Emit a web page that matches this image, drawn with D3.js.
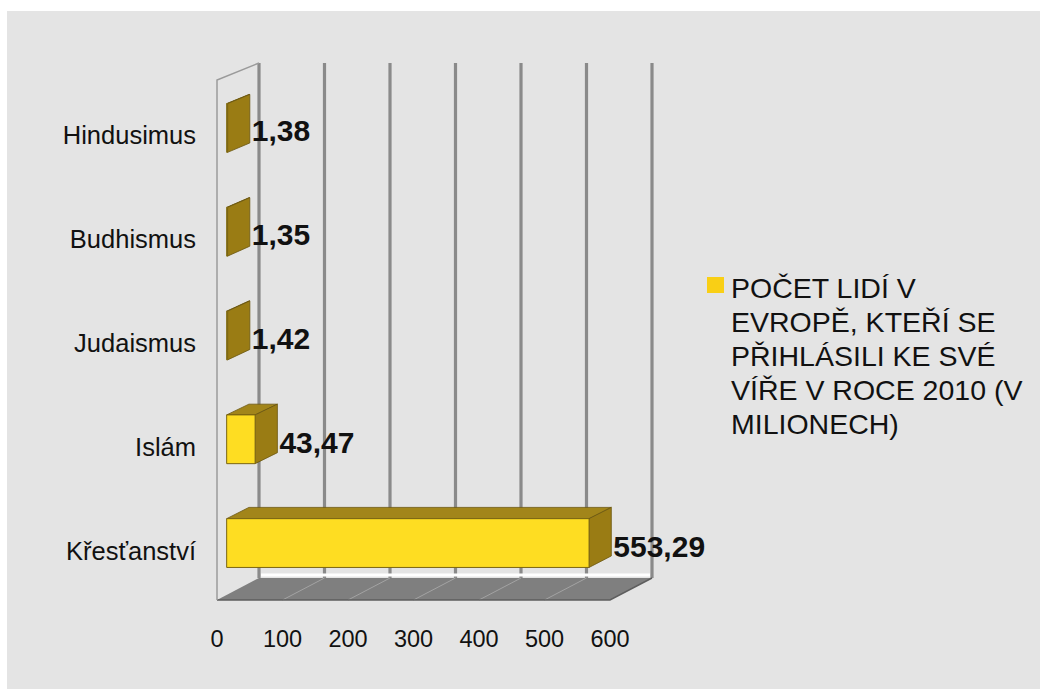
<!DOCTYPE html>
<html>
<head>
<meta charset="utf-8">
<script src="https://cdn.jsdelivr.net/npm/d3@7"></script>
<style>
	body { margin: 0; background: #ffffff; }
	text { font-family: "Liberation Sans", Arial, sans-serif; fill: #111111; }
</style>
</head>
<body>
<div id="chart-area"></div>
<script>

// data
let categories = ["Křesťanství", "Islám", "Judaismus", "Budhismus", "Hindusimus"];
let values = [553.29, 43.47, 1.42, 1.35, 1.38];
let xTicks = [0, 100, 200, 300, 400, 500, 600];
let legendLines = ["POČET LIDÍ V", "EVROPĚ, KTEŘÍ SE", "PŘIHLÁSILI KE SVÉ", "VÍŘE V ROCE 2010 (V", "MILIONECH)"];

let width = 1040, height = 689;

let svg = d3.select("#chart-area").append("svg")
	.attr("width", width)
	.attr("height", height);

// panel background
svg.append("rect")
	.attr("x", 7).attr("y", 11)
	.attr("width", width - 7).attr("height", height - 11)
	.style("fill", "#e4e4e4");

// scales (front plane), depth is faked with an offset
let x = d3.scaleLinear().domain([0, 600]).range([217, 610]);
let y = d3.scaleBand().domain(categories).range([600, 80]);
let yBar = d3.scaleBand().domain(categories).range([600, 80])
	.paddingInner(0.53).paddingOuter(0.265);

let yTop = 80, yBottom = 600;
const DX = 42;
// a bit of perspective: the depth shift is smaller near the top
function dyAt(yy) { return -(17 + 5 * (yy - yTop) / (yBottom - yTop)); }
function P(v, yy, d) { return [x(v) + DX * d, yy + dyAt(yy) * d]; }
function poly(pts) { return pts.map(p => p.join(",")).join(" "); }

// back wall grid lines
svg.selectAll(".grid")
	.data(xTicks)
	.enter()
	.append("line")
	.attr("x1", d => P(d, yTop, 1)[0])
	.attr("x2", d => P(d, yBottom, 1)[0])
	.attr("y1", d => P(d, yTop, 1)[1])
	.attr("y2", d => P(d, yBottom, 1)[1])
	.style("stroke", "#8a8a8a")
	.style("stroke-width", 3.2);

// white edge where back wall meets floor
svg.append("line")
	.attr("x1", P(0, yBottom, 1)[0] + 2).attr("x2", P(600, yBottom, 1)[0] - 2)
	.attr("y1", P(0, yBottom, 1)[1] - 3).attr("y2", P(0, yBottom, 1)[1] - 3)
	.style("stroke", "#ffffff")
	.style("stroke-width", 3);

// floor
svg.append("polygon")
	.attr("points", poly([P(0, yBottom, 0), P(600, yBottom, 0), P(600, yBottom, 1), P(0, yBottom, 1)]))
	.style("fill", "#7f7f7f");

svg.selectAll(".floor-grid")
	.data(xTicks.slice(1, -1))
	.enter()
	.append("line")
	.attr("x1", d => P(d, yBottom, 0)[0])
	.attr("y1", d => P(d, yBottom, 0)[1])
	.attr("x2", d => P(d, yBottom, 1)[0])
	.attr("y2", d => P(d, yBottom, 1)[1])
	.style("stroke", "#a3a3a3")
	.style("stroke-width", 1);

svg.append("polyline")
	.attr("points", poly([P(0, yBottom, 0), P(600, yBottom, 0), P(600, yBottom, 1)]))
	.style("fill", "none")
	.style("stroke", "#5e5e5e")
	.style("stroke-width", 1.5);

// left wall outline
svg.append("polyline")
	.attr("points", poly([P(0, yBottom, 0), P(0, yTop, 0), P(0, yTop, 1)]))
	.style("fill", "none")
	.style("stroke", "#9a9a9a")
	.style("stroke-width", 1.5);

// bars
let d0 = 0.23, d1 = 0.76;
let bars = svg.selectAll(".bar")
	.data(categories.map((c, i) => ({cat: c, val: values[i]})))
	.enter()
	.append("g")
	.classed("bar", true);

bars.append("polygon")
	.attr("points", d => {
		let t = yBar(d.cat);
		return poly([P(0, t, d0), P(d.val, t, d0), P(d.val, t, d1), P(0, t, d1)]);
	})
	.style("fill", "#a2851a")
	.style("stroke", "#6b5710")
	.style("stroke-width", 0.8);

bars.append("polygon")
	.attr("points", d => {
		let t = yBar(d.cat), b = t + yBar.bandwidth();
		return poly([P(d.val, t, d0), P(d.val, t, d1), P(d.val, b, d1), P(d.val, b, d0)]);
	})
	.style("fill", "#9a7c14")
	.style("stroke", "#6b5710")
	.style("stroke-width", 0.8);

bars.append("polygon")
	.attr("points", d => {
		let t = yBar(d.cat), b = t + yBar.bandwidth();
		return poly([P(0, t, d0), P(d.val, t, d0), P(d.val, b, d0), P(0, b, d0)]);
	})
	.style("fill", "#fedd22")
	.style("stroke", "#7a6412")
	.style("stroke-width", 1);

// value labels with czech decimal comma
let cz = d3.formatLocale({decimal: ",", thousands: " ", grouping: [3], currency: ["", " Kč"]});
let fmt = cz.format(".2f");

bars.append("text")
	.attr("x", d => P(d.val, yBar(d.cat), d1)[0] + 2)
	.attr("y", d => y(d.cat) + y.bandwidth() / 2 - 2)
	.attr("dy", "0.36em")
	.style("font-size", "30px")
	.style("font-weight", "bold")
	.text(d => fmt(d.val));

// category labels
svg.selectAll(".cat-label")
	.data(categories)
	.enter()
	.append("text")
	.attr("x", 196)
	.attr("y", d => y(d) + y.bandwidth() / 2 + 3)
	.attr("dy", "0.36em")
	.attr("text-anchor", "end")
	.style("font-size", "25.5px")
	.text(d => d);

// x tick labels
svg.selectAll(".tick-label")
	.data(xTicks)
	.enter()
	.append("text")
	.attr("x", d => x(d))
	.attr("y", 647)
	.attr("text-anchor", "middle")
	.style("font-size", "23.5px")
	.text(d => d);

// legend
svg.append("rect")
	.attr("x", 707).attr("y", 277)
	.attr("width", 17).attr("height", 16)
	.style("fill", "#f9cf15");

svg.selectAll(".legend-line")
	.data(legendLines)
	.enter()
	.append("text")
	.attr("x", 731)
	.attr("y", (d, i) => 298 + i * 34)
	.style("font-size", "28.5px")
	.text(d => d);

</script>
</body>
</html>
